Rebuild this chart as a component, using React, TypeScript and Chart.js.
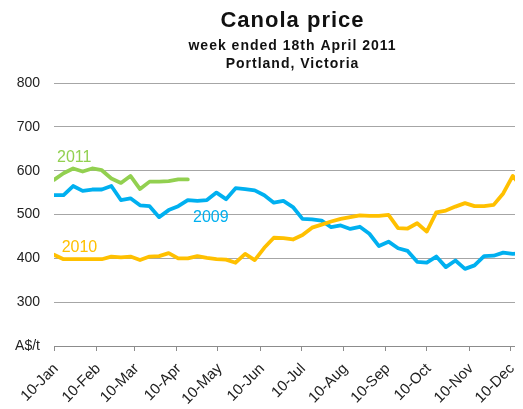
import React, { useEffect, useRef } from "react";
import { Chart, registerables } from "chart.js";

Chart.register(...registerables);

// Days after 10 January for each weekly observation
const weekDays = [
  0, 7, 14, 21, 28, 35, 42, 49, 56, 63, 70, 77, 84, 91, 98, 105, 112, 119, 126, 133,
  140, 147, 154, 161, 168, 175, 182, 189, 196, 203, 210, 217, 224, 231, 238, 245, 252,
  259, 266, 273, 280, 287, 294, 301, 308, 315, 322, 329, 336, 343,
];

const price2009 = [
  544, 544, 565, 554, 557, 557, 565, 533, 537, 521, 519, 494, 510, 519, 533, 531, 533,
  550, 535, 560, 558, 555, 544, 527, 531, 517, 490, 489, 486, 471, 475, 467, 472, 456,
  428, 438, 423, 417, 392, 390, 404, 380, 395, 376, 384, 405, 406, 413, 410, 412,
];

const price2010 = [
  408, 398, 398, 398, 398, 398, 404, 402, 404, 396, 404, 405, 412, 400, 400, 405, 401,
  398, 397, 390, 410, 396, 424, 447, 446, 443, 453, 470, 477, 484, 490, 494, 498, 497,
  497, 499, 469, 468, 480, 461, 505, 509, 518, 526, 519, 519, 522, 548, 588, 560,
];

const price2011 = [579, 594, 605, 598, 605, 601, 582, 572, 588, 558, 575, 575, 576, 580, 580];

const monthTickDays = [0, 31, 59, 90, 120, 151, 181, 212, 243, 273, 304, 334];
const monthLabels = [
  "10-Jan", "10-Feb", "10-Mar", "10-Apr", "10-May", "10-Jun",
  "10-Jul", "10-Aug", "10-Sep", "10-Oct", "10-Nov", "10-Dec",
];

const yTickValues = [200, 300, 400, 500, 600, 700, 800];
const yTickLabels = ["A$/t", "300", "400", "500", "600", "700", "800"];

const titleLines = ["Canola price", "week ended 18th April 2011", "Portland, Victoria"];

const seriesNames = ["2010", "2009", "2011"];
const seriesColors = ["#FFC000", "#00B0F0", "#92D050"];
// where each series name sits (day, price)
const labelDays = [5.6, 101.8, 2.2];
const labelPrices = [425, 492, 630];

const FONT = "'Liberation Sans', Arial, sans-serif";

export default function App() {
  const ref = useRef<HTMLCanvasElement | null>(null);

  useEffect(() => {
    document.body.style.overflow = "hidden";
    const canvas = ref.current;
    if (!canvas) return;

    const seriesData = [price2010, price2009, price2011];

    const textPlugin = {
      id: "texts",
      afterDraw(chart: any) {
        const ctx = chart.ctx;
        const area = chart.chartArea;
        const cx = (area.left + area.right) / 2 + 4;
        ctx.save();
        ctx.fillStyle = "#111";
        ctx.textAlign = "center";
        ctx.textBaseline = "alphabetic";
        (ctx as any).letterSpacing = "1px";
        ctx.font = `bold 22px ${FONT}`;
        ctx.fillText(titleLines[0], cx, 18.7);
        ctx.font = `bold 14px ${FONT}`;
        ctx.fillText(titleLines[1], cx, 42);
        ctx.fillText(titleLines[2], cx, 60.3);
        (ctx as any).letterSpacing = "0px";

        const xs = chart.scales.x;
        const ys = chart.scales.y;
        ctx.textAlign = "left";
        ctx.textBaseline = "middle";
        ctx.font = `16px ${FONT}`;
        for (let i = 0; i < seriesNames.length; i++) {
          ctx.fillStyle = seriesColors[i];
          ctx.fillText(
            seriesNames[i],
            xs.getPixelForValue(labelDays[i]),
            ys.getPixelForValue(labelPrices[i])
          );
        }
        ctx.restore();
      },
    };

    const chart = new Chart(canvas, {
      type: "line",
      data: {
        datasets: seriesData.map((vals, i) => ({
          label: seriesNames[i],
          data: vals.map((v, j) => ({ x: weekDays[j], y: v })),
          borderColor: seriesColors[i],
          backgroundColor: seriesColors[i],
          borderWidth: 3.8,
          pointRadius: 0,
          tension: 0,
          borderJoinStyle: "round",
          borderCapStyle: "round",
          fill: false,
        })),
      },
      options: {
        responsive: false,
        animation: false,
        layout: { padding: { top: 75, left: 0, right: 0, bottom: 0 } },
        plugins: {
          legend: { display: false },
          title: { display: false },
          tooltip: { enabled: false },
        },
        scales: {
          x: {
            type: "linear",
            min: 0,
            max: 343.5,
            afterBuildTicks: (scale: any) => {
              scale.ticks = monthTickDays.map((v) => ({ value: v }));
            },
            afterFit: (scale: any) => {
              scale.height = 63;
              scale.paddingLeft = 0;
              scale.paddingRight = 0;
            },
            ticks: {
              autoSkip: false,
              maxRotation: 45,
              minRotation: 45,
              padding: 9,
              labelOffset: 2,
              color: "#222",
              font: { family: FONT, size: 15 },
              callback: (value: any) => {
                const idx = monthTickDays.indexOf(Number(value));
                return idx >= 0 ? monthLabels[idx] : "";
              },
            },
            grid: {
              drawOnChartArea: false,
              drawTicks: true,
              tickLength: 5,
              color: "#8c8c8c",
            },
            border: { display: true, color: "#8c8c8c", width: 1 },
          },
          y: {
            min: 200,
            max: 800,
            afterBuildTicks: (scale: any) => {
              scale.ticks = yTickValues.map((v) => ({ value: v }));
            },
            afterFit: (scale: any) => {
              scale.width = 46;
              scale.paddingTop = 0;
              scale.paddingBottom = 0;
            },
            ticks: {
              padding: 14,
              color: "#222",
              font: { family: FONT, size: 14 },
              callback: (value: any) => {
                const idx = yTickValues.indexOf(Number(value));
                return idx >= 0 ? yTickLabels[idx] : "";
              },
            },
            grid: {
              color: "#a6a6a6",
              lineWidth: 1,
              drawTicks: false,
            },
            border: { display: false },
          },
        },
      },
      plugins: [textPlugin],
    });

    return () => chart.destroy();
  }, []);

  return (
    <div style={{ width: 515, height: 401, overflow: "hidden" }}>
      <canvas ref={ref} width={515} height={401} style={{ width: 515, height: 401, display: "block" }} />
    </div>
  );
}
